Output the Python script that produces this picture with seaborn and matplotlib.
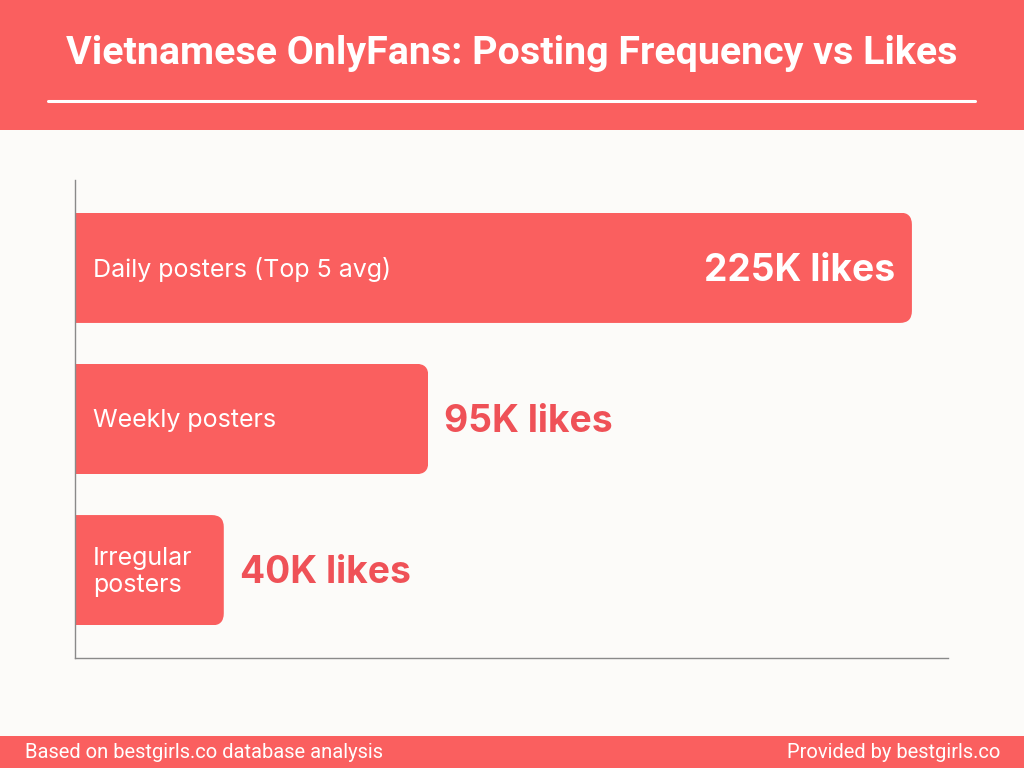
import matplotlib
matplotlib.use("Agg")
import matplotlib.pyplot as plt
import seaborn as sns
import pandas as pd
from matplotlib.patches import FancyBboxPatch, Rectangle
from matplotlib.transforms import IdentityTransform

# ---- data ----
categories = ["Daily posters (Top 5 avg)", "Weekly posters", "Irregular\nposters"]
likes_k = [225, 95, 40]
value_labels = ["225K likes", "95K likes", "40K likes"]

title = "Vietnamese OnlyFans: Posting Frequency vs Likes"
footer_left = "Based on bestgirls.co database analysis"
footer_right = "Provided by bestgirls.co"

RED = "#FA5F5F"
RED_TEXT = "#EF5157"
BG = "#FCFBF9"

sns.set_theme(style="white")
plt.rcParams["font.family"] = ["Inter", "DejaVu Sans"]

df = pd.DataFrame({"category": categories, "likes": likes_k})

fig = plt.figure(figsize=(10.24, 7.68), dpi=100)
fig.patch.set_facecolor(BG)

# header band
fig.add_artist(Rectangle((0, 1 - 130 / 768), 1, 130 / 768, transform=fig.transFigure,
                         facecolor=RED, edgecolor="none", zorder=0))
fig.add_artist(plt.Line2D([48 / 1024, 975 / 1024], [1 - 101 / 768] * 2,
                          transform=fig.transFigure, color="white", lw=2.2, zorder=1))
fig.text(0.5, 1 - 53 / 768, title, ha="center", va="center", color="white",
         fontsize=28.4, fontweight="bold", family=["Roboto", "DejaVu Sans"])

# footer band
fig.add_artist(Rectangle((0, 0), 1, 32 / 768, transform=fig.transFigure,
                         facecolor=RED, edgecolor="none", zorder=0))
fig.text(25 / 1024, 16 / 768, footer_left, ha="left", va="center", color="white",
         fontsize=14.5, family=["Roboto", "DejaVu Sans"])
fig.text(1000 / 1024, 16 / 768, footer_right, ha="right", va="center", color="white",
         fontsize=14.5, family=["Roboto", "DejaVu Sans"])

ax = fig.add_axes([75 / 1024, 110 / 768, 873 / 1024, 478 / 768])
ax.set_facecolor(BG)
sns.barplot(data=df, x="likes", y="category", orient="h", color=RED,
            width=0.73, saturation=1, ax=ax)
ax.set_xlim(0, 234.7)
ax.set_ylim(2.58, -0.58)
ax.set_xlabel("")
ax.set_ylabel("")
ax.set_xticks([])
ax.set_yticks([])
for s in ["top", "right"]:
    ax.spines[s].set_visible(False)
for s in ["left", "bottom"]:
    ax.spines[s].set_color("#8a8a8a")
    ax.spines[s].set_linewidth(1.0)

fig.canvas.draw()
# round right corners of bars
for p in ax.patches:
    p.set_edgecolor("none")
    bb = p.get_window_extent()
    clip = FancyBboxPatch((bb.x0 - 30, bb.y0), bb.width + 30, bb.height,
                          boxstyle="round,pad=0,rounding_size=12",
                          transform=IdentityTransform())
    p.set_clip_path(clip)

# labels
for i, (cat, val, lab) in enumerate(zip(categories, likes_k, value_labels)):
    ax.annotate(cat, (0, i), xytext=(18, -2), textcoords="offset pixels",
                ha="left", va="center", color="white", fontsize=18, linespacing=1.2)
    if val > 150:
        ax.annotate(lab, (val, i), xytext=(-17, -3), textcoords="offset pixels",
                    ha="right", va="center", color="white", fontsize=26.8, fontweight="bold")
    else:
        ax.annotate(lab, (val, i), xytext=(16, -3), textcoords="offset pixels",
                    ha="left", va="center", color=RED_TEXT, fontsize=26.8, fontweight="bold")

fig.savefig("out.png", dpi=100, facecolor=BG)
